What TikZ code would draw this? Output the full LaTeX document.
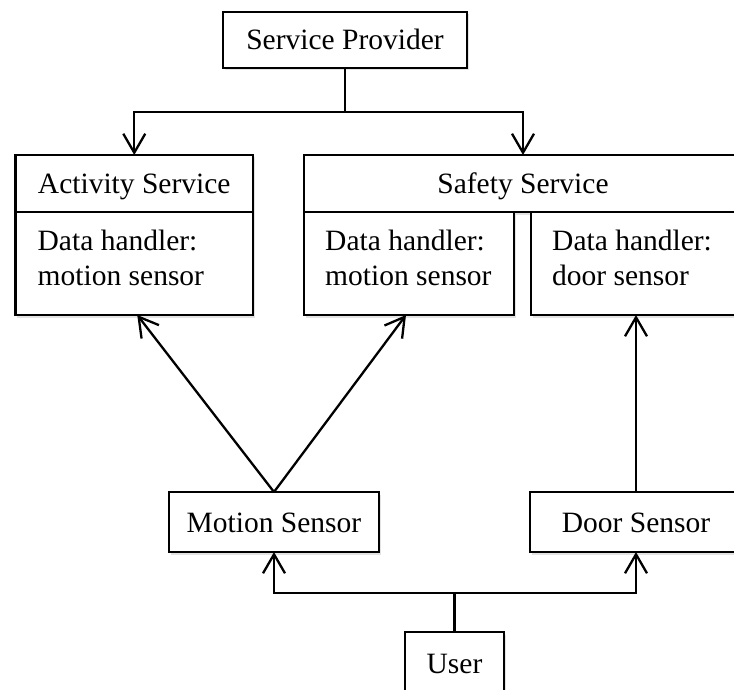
\documentclass[tikz,border=0pt]{standalone}
\usepackage{fontspec}
\setmainfont{Liberation Serif}
\usetikzlibrary{arrows.meta,shadows}
\begin{document}
\begin{tikzpicture}[x=1pt,y=-1pt,
  lw/.style={line width=2.3pt},
  labelfont/.style={font=\fontsize{29.5}{35}\selectfont},
  box/.style={draw, lw, fill=white, rectangle, inner sep=0pt, outer sep=0pt,
    text depth=0pt, text height=20pt, labelfont,
    drop shadow={shadow xshift=1.5pt, shadow yshift=-2.5pt, opacity=0.22}},
  txt/.style={anchor=base west, inner sep=0pt, labelfont},
  arr/.style={lw, -{Straight Barb[length=19pt,width=22pt,line width=2.3pt]}},
  wire/.style={lw}
]
\useasboundingbox (0,0) rectangle (734,690);
\clip (0,0) rectangle (734,690);

% top level
\node[box, minimum width=244pt, minimum height=56pt] (sp) at (345,40) {Service Provider};

% activity service
\node[box, minimum width=237.5pt, minimum height=57pt] (acth) at (134.25,183.5) {Activity Service};
\node[box, minimum width=237.5pt, minimum height=103pt] (actb) at (134.25,263.5) {};
\node[txt] (actt) at (37.5,251) {\begin{tabular}[t]{@{}l@{}}Data handler:\\motion sensor\end{tabular}};

% safety service
\node[box, minimum width=438pt, minimum height=57pt] (safh) at (523,183.5) {Safety Service};
\node[box, minimum width=210pt, minimum height=103pt] (sm) at (409,263.5) {};
\node[txt] (smt) at (325,251) {\begin{tabular}[t]{@{}l@{}}Data handler:\\motion sensor\end{tabular}};
\node[box, minimum width=214pt, minimum height=103pt] (sd) at (638,263.5) {};
\node[txt] (sdt) at (552,251) {\begin{tabular}[t]{@{}l@{}}Data handler:\\door sensor\end{tabular}};

% sensors and user
\node[box, minimum width=210pt, minimum height=60pt] (mo) at (274,522) {Motion Sensor};
\node[box, minimum width=212pt, minimum height=60pt] (do) at (636,522) {Door Sensor};
\node[box, minimum width=99pt, minimum height=62pt] (us) at (454.5,663) {User};

% provider to services
\draw[wire] (sp.south) -- ++(0,44) coordinate (split);
\draw[arr] (split) -| (acth.north);
\draw[arr] (split) -| (safh.north);

% sensors to data handlers
\draw[arr] (mo.north) -- ([xshift=3pt]actb.south);
\draw[arr] (mo.north) -- ([xshift=-3pt]sm.south);
\draw[arr] (do.north) -- (do.north |- sd.south);

% user to sensors
\draw[wire] (us.north) -- ++(0,-39) coordinate (usplit);
\draw[arr] (usplit) -| (mo.south);
\draw[arr] (usplit) -| (do.south);
\end{tikzpicture}
\end{document}
